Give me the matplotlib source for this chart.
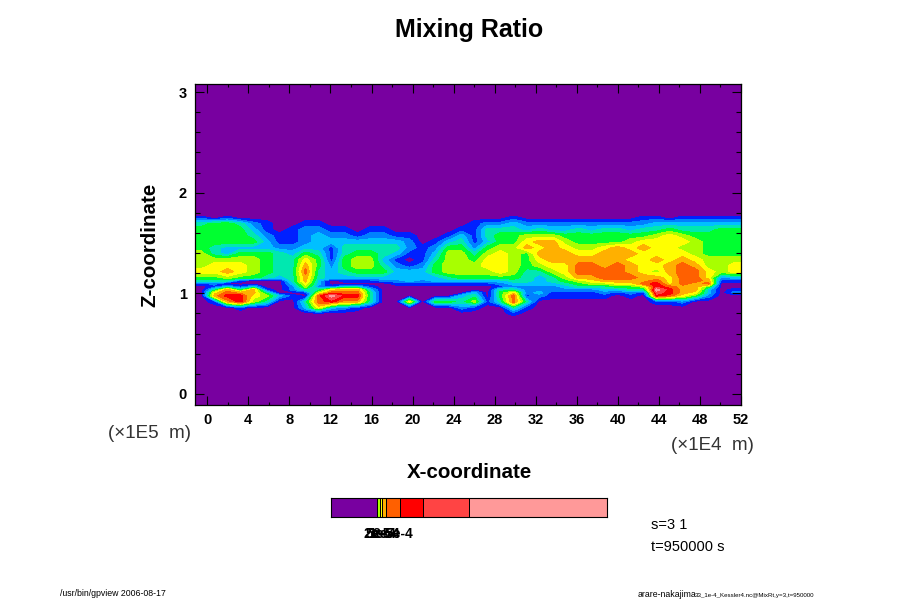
import numpy as np
import matplotlib
matplotlib.use("Agg")
import matplotlib.pyplot as plt
from matplotlib.colors import ListedColormap, BoundaryNorm

plt.rcParams['font.family'] = ['Liberation Sans', 'DejaVu Sans']

title = "Mixing Ratio"
x_ticks = [0, 4, 8, 12, 16, 20, 24, 28, 32, 36, 40, 44, 48, 52]
z_ticks = [0, 1, 2, 3]

# colours of the tone steps, lowest first
tone_colors = ['#7800a0', '#0020ff', '#0080ff', '#00c0ff', '#00e8b0', '#00ff30',
               '#a8ff00', '#ffff00', '#ffb000', '#ff6000', '#ff0000', '#ff4444', '#ff9999']

# height of each row in tone_grid
z_rows = [1.751, 1.692, 1.632, 1.572, 1.513, 1.453, 1.394, 1.334, 1.274, 1.215,
          1.155, 1.125, 1.096, 1.066, 1.036, 1.006, 0.976, 0.917, 0.857, 0.798]

# tone step, top row to bottom row
tone_grid = [
    [1,0,1,0,0,0,0,0,0,0,0,0,0,0,0,0,0,0,0,0,0, 0,0,0,1,0,0,0,0,0,0,0,0,0,1,1,0,1,1,1,1,1],
    [4,5,5,4,2,1,0,0,1,1,0,0,0,0,0,0,0,0,0,0,0, 1,2,2,3,2,2,2,2,2,2,2,2,2,2,3,3,3,3,3,3,3],
    [5,5,5,5,3,1,0,1,2,2,1,1,0,1,1,0,0,0,0,0,1, 1,4,4,4,3,4,3,3,4,3,4,4,3,4,4,5,4,4,4,5,5],
    [5,5,5,5,4,2,1,1,2,3,2,2,1,2,2,1,1,0,0,1,3, 1,4,5,5,6,6,6,5,5,5,5,5,5,5,6,7,6,5,5,5,5],
    [5,5,5,5,5,3,1,1,2,3,3,3,3,3,3,3,2,0,1,3,4, 1,3,5,5,7,8,8,6,5,5,5,5,6,7,7,7,7,6,5,5,5],
    [5,4,3,3,3,3,2,2,3,3,1,4,4,4,4,4,2,1,2,5,5, 2,5,6,6,8,7,8,7,6,6,7,8,7,8,7,7,6,6,5,5,5],
    [6,4,3,5,5,5,4,3,5,4,1,4,5,5,4,3,1,1,3,6,6, 4,6,7,6,5,8,8,8,7,7,8,8,8,7,7,7,7,6,5,5,5],
    [6,6,6,6,6,5,4,4,7,5,1,5,6,6,3,1,0,1,4,6,6, 5,7,7,6,5,7,8,8,8,8,8,8,7,7,8,7,8,7,6,6,6],
    [6,7,7,7,6,5,4,4,8,5,2,5,6,6,4,2,1,2,5,6,6, 6,7,7,6,5,6,7,7,9,9,8,9,8,7,7,8,9,8,6,6,7],
    [7,7,8,7,6,5,4,4,9,4,3,4,5,5,5,3,3,3,5,6,6, 6,6,7,6,4,4,6,7,9,9,9,9,8,7,6,8,9,9,7,6,7],
    [5,5,6,5,5,4,3,4,8,4,3,3,3,3,3,3,3,3,3,4,5, 5,5,5,5,4,3,4,6,8,8,9,9,9,8,8,7,9,9,7,2,3],
    [4,4,4,1,0,0,0,4,8,3,0,1,1,1,2,2,3,2,3,3,3, 3,3,3,4,4,3,4,5,6,7,8,8,8,8,9,7,9,9,8,1,1],
    [1,2,0,0,0,0,0,3,7,3,0,0,0,0,0,1,1,1,1,1,1, 1,1,2,3,3,3,3,4,5,6,6,7,7,9,10,7,9,8,9,0,0],
    [0,1,3,1,3,0,0,2,6,2,1,3,3,1,0,0,0,0,0,0,0, 0,0,1,2,2,2,2,3,4,4,4,5,5,6,10,9,8,8,5,0,0],
    [0,4,8,4,8,1,0,2,4,4,7,8,8,3,0,0,0,0,0,0,0, 0,0,4,4,2,2,2,2,2,2,3,3,4,4,12,10,8,8,3,0,1],
    [0,7,9,8,8,4,0,0,1,6,9,9,9,4,0,0,0,0,0,0,0, 3,0,5,7,2,3,1,1,1,1,2,1,2,1,11,10,8,7,3,0,2],
    [0,8,10,10,7,6,3,1,0,9,12,10,10,4,0,0,0,0,0,0,3, 4,0,5,9,1,2,1,1,1,1,1,0,1,0,10,9,7,5,2,0,0],
    [0,1,8,10,6,4,0,0,4,9,10,8,8,4,0,0,7,0,5,5,4, 6,1,4,9,4,0,0,0,0,0,0,0,0,0,1,1,2,0,0,0,0],
    [0,0,0,1,0,0,0,0,3,7,3,2,1,0,0,0,0,0,0,0,2, 1,0,0,4,1,0,0,0,0,0,0,0,0,0,0,0,0,0,0,0,0],
    [0,0,0,0,0,0,0,0,0,0,0,0,0,0,0,0,0,0,0,0,0, 0,0,0,1,0,0,0,0,0,0,0,0,0,0,0,0,0,0,0,0,0],
]

# tone bar: step edges and which colour each band uses
bar_edges = [0, 3.2e-4, 3.34e-4, 3.48e-4, 3.82e-4, 4.72e-4, 6.3e-4, 9.47e-4, 1.9e-3]
bar_tones = [0, 6, 7, 8, 9, 10, 11, 12]
bar_label_pos = [3.2e-4, 3.34e-4, 3.48e-4, 3.82e-4, 4.72e-4]
bar_labels = ['2e-5', '5e-5', '1e-4', '2e-4', '5e-4']

fig = plt.figure(figsize=(9, 6), dpi=100)

def put_text(px, py, s, **kw):
    # position given in image pixels
    fig.text(px / 900, 1 - py / 600, s, **kw)

ax = fig.add_axes([195 / 900, 1 - 405 / 600, 546 / 900, 321 / 600])
ax.set_facecolor(tone_colors[0])

cmap = ListedColormap(tone_colors)
norm = BoundaryNorm(np.arange(-0.5, 13.5), cmap.N)

tone = np.array(tone_grid, dtype=float)
tone = np.pad(tone, ((1, 1), (1, 1)), mode='constant')
tone[1:-1, 0] = tone[1:-1, 1]
tone[1:-1, -1] = tone[1:-1, -2]
xs = np.r_[-1.2, -0.57 + 1.267 * np.arange(42), 52]
zs = np.r_[1.785, z_rows, 0.76]
ax.contourf(xs, zs, tone, levels=np.arange(-0.5, 13.5), cmap=cmap, norm=norm, antialiased=False)

ax.set_xlim(-1.2, 52)
ax.set_ylim(-0.11, 3.08)
ax.set_xticks(x_ticks)
ax.set_xticks(np.arange(0, 53, 2), minor=True)
ax.set_yticks(z_ticks)
ax.set_yticks(np.arange(0, 3.01, 0.2), minor=True)
ax.tick_params(which='major', direction='in', length=6.5, width=0.8, top=True, right=True, pad=6)
ax.tick_params(which='minor', direction='in', length=2.5, width=0.8, top=True, right=True)
ax.tick_params(axis='y', which='minor', length=3.5)
ax.tick_params(labelsize=10.5)
for lab in ax.get_xticklabels() + ax.get_yticklabels():
    lab.set_fontweight('bold')
for sp in ax.spines.values():
    sp.set_linewidth(0.9)

put_text(469, 30, title, ha='center', va='center', fontsize=18, fontweight='bold')
put_text(469, 472, "X-coordinate", ha='center', va='center', fontsize=14.8, fontweight='bold')
put_text(150, 245, "Z-coordinate", ha='center', va='center', fontsize=14.8, fontweight='bold', rotation=90)
put_text(149, 433, "(×1E5  m)", ha='center', va='center', fontsize=13.5, color='#333333')
put_text(712, 445, "(×1E4  m)", ha='center', va='center', fontsize=13.5, color='#333333')

# tone bar
cax = fig.add_axes([331 / 900, 1 - 517 / 600, 276 / 900, 19 / 600])
bar_cmap = ListedColormap([tone_colors[t] for t in bar_tones])
cax.pcolormesh(bar_edges, [0, 1], [np.arange(len(bar_tones))], cmap=bar_cmap)
cax.vlines(bar_edges[1:-1], 0, 1, color='black', linewidth=0.6, antialiased=False)
cax.set_xlim(bar_edges[0], bar_edges[-1])
cax.set_ylim(0, 1)
cax.set_yticks([])
cax.set_xticks(bar_label_pos)
cax.set_xticklabels(bar_labels, fontsize=10, fontweight='bold')
cax.tick_params(axis='x', length=0, pad=7)
for sp in cax.spines.values():
    sp.set_linewidth(0.8)

put_text(651, 525, "s=3 1", ha='left', va='center', fontsize=10.5)
put_text(651, 547, "t=950000 s", ha='left', va='center', fontsize=10.5)
put_text(60, 594, "/usr/bin/gpview 2006-08-17", ha='left', va='center', fontsize=6.3)
put_text(638, 594.5, "arare-nakajima", ha='left', va='center', fontsize=6.3)
put_text(695, 595.5, "33_1e-4_Kessler4.nc@MixRt,y=3,t=950000", ha='left', va='center', fontsize=4.4)

fig.savefig("out.png", dpi=100)
